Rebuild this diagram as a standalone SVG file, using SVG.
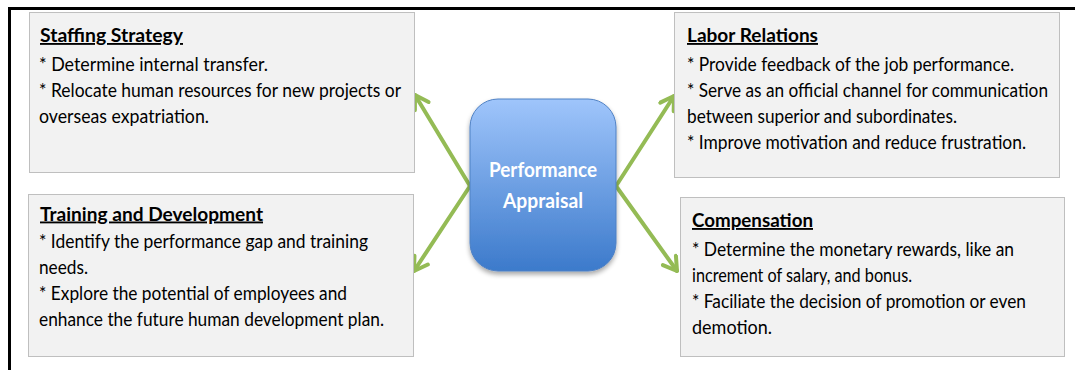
<svg xmlns="http://www.w3.org/2000/svg" width="1075" height="370" viewBox="0 0 1075 370">
  <style>
    .box { fill: #f2f2f2; stroke: #bfbfbf; stroke-width: 1; }
    .txt { font-family: Lato, "Open Sans", "Liberation Sans", sans-serif; font-size: 18.5px; fill: #000; }
    .ttl { font-weight: bold; text-decoration: underline; }
    .hub { font-family: Lato, "Open Sans", "Liberation Sans", sans-serif; font-size: 20px; font-weight: bold; fill: #ffffff; }
    .link { stroke: #94bb55; stroke-width: 4; fill: none; stroke-linecap: round; }
  </style>
  <defs>
    <linearGradient id="hubFill" x1="0" y1="0" x2="0" y2="1">
      <stop offset="0" stop-color="#9fc5fb"/>
      <stop offset="1" stop-color="#3c7acb"/>
    </linearGradient>
    <filter id="softShadow" x="-20%" y="-20%" width="140%" height="140%">
      <feGaussianBlur in="SourceAlpha" stdDeviation="2.5"/>
      <feOffset dx="0" dy="3" result="b"/>
      <feComponentTransfer><feFuncA type="linear" slope="0.35"/></feComponentTransfer>
      <feMerge><feMergeNode/><feMergeNode in="SourceGraphic"/></feMerge>
    </filter>
    <marker id="chevron" viewBox="0 0 20 20" refX="17" refY="10" markerWidth="20" markerHeight="20" markerUnits="userSpaceOnUse" orient="auto">
      <path d="M4,2 L17,10 L4,18" fill="none" stroke="#94bb55" stroke-width="4" stroke-linecap="round" stroke-linejoin="round"/>
    </marker>
  </defs>

  <rect width="1075" height="370" fill="#ffffff"/>

  <!-- frame: top and left rules -->
  <path d="M9.5,370 V8.5 H1075" fill="none" stroke="#000" stroke-width="3"/>

  <!-- connectors -->
  <g id="connectors">
    <line class="link" x1="470" y1="186" x2="415" y2="95" marker-end="url(#chevron)"/>
    <line class="link" x1="470" y1="186" x2="414" y2="271" marker-end="url(#chevron)"/>
    <line class="link" x1="616" y1="186" x2="674" y2="96" marker-end="url(#chevron)"/>
    <line class="link" x1="616" y1="186" x2="677" y2="271" marker-end="url(#chevron)"/>
  </g>

  <g id="staffing-strategy">
    <rect class="box" x="29.5" y="12.5" width="385" height="160"/>
    <text class="txt ttl" x="40" y="42" textLength="143" lengthAdjust="spacingAndGlyphs">Staffing Strategy</text>
    <text class="txt" x="39" y="70.5" textLength="229" lengthAdjust="spacingAndGlyphs">* Determine internal transfer.</text>
    <text class="txt" x="39" y="96.5" textLength="362" lengthAdjust="spacingAndGlyphs">* Relocate human resources for new projects or</text>
    <text class="txt" x="39" y="122.5" textLength="170" lengthAdjust="spacingAndGlyphs">overseas expatriation.</text>
  </g>

  <g id="training-development">
    <rect class="box" x="28.5" y="194.5" width="385" height="162"/>
    <text class="txt ttl" x="40" y="220.5" textLength="223" lengthAdjust="spacingAndGlyphs">Training and Development</text>
    <text class="txt" x="39" y="248" textLength="329" lengthAdjust="spacingAndGlyphs">* Identify the performance gap and training</text>
    <text class="txt" x="39" y="274" textLength="49" lengthAdjust="spacingAndGlyphs">needs.</text>
    <text class="txt" x="39" y="300" textLength="308" lengthAdjust="spacingAndGlyphs">* Explore the potential of employees and</text>
    <text class="txt" x="39" y="326" textLength="345" lengthAdjust="spacingAndGlyphs">enhance the future human development plan.</text>
  </g>

  <g id="labor-relations">
    <rect class="box" x="674.5" y="12.5" width="385" height="165"/>
    <text class="txt ttl" x="687" y="42" textLength="131" lengthAdjust="spacingAndGlyphs">Labor Relations</text>
    <text class="txt" x="687" y="70.5" textLength="327" lengthAdjust="spacingAndGlyphs">* Provide feedback of the job performance.</text>
    <text class="txt" x="687" y="96.5" textLength="361" lengthAdjust="spacingAndGlyphs">* Serve as an official channel for communication</text>
    <text class="txt" x="687" y="122.5" textLength="270" lengthAdjust="spacingAndGlyphs">between superior and subordinates.</text>
    <text class="txt" x="687" y="148.5" textLength="339" lengthAdjust="spacingAndGlyphs">* Improve motivation and reduce frustration.</text>
  </g>

  <g id="compensation">
    <rect class="box" x="680.5" y="197.5" width="384" height="159"/>
    <text class="txt ttl" x="692" y="227" textLength="121" lengthAdjust="spacingAndGlyphs">Compensation</text>
    <text class="txt" x="692" y="255.5" textLength="322" lengthAdjust="spacingAndGlyphs">* Determine the monetary rewards, like an</text>
    <text class="txt" x="692" y="281.5" textLength="220" lengthAdjust="spacingAndGlyphs">increment of salary, and bonus.</text>
    <text class="txt" x="692" y="307.5" textLength="334" lengthAdjust="spacingAndGlyphs">* Faciliate the decision of promotion or even</text>
    <text class="txt" x="692" y="333.5" textLength="80" lengthAdjust="spacingAndGlyphs">demotion.</text>
  </g>

  <g id="performance-appraisal">
    <rect x="470" y="99" width="146" height="172" rx="28" ry="28" fill="url(#hubFill)" stroke="#4f81c4" stroke-width="1" filter="url(#softShadow)"/>
    <text class="hub" x="543" y="177" text-anchor="middle" textLength="108" lengthAdjust="spacingAndGlyphs">Performance</text>
    <text class="hub" x="543" y="208" text-anchor="middle" textLength="80" lengthAdjust="spacingAndGlyphs">Appraisal</text>
  </g>
</svg>
